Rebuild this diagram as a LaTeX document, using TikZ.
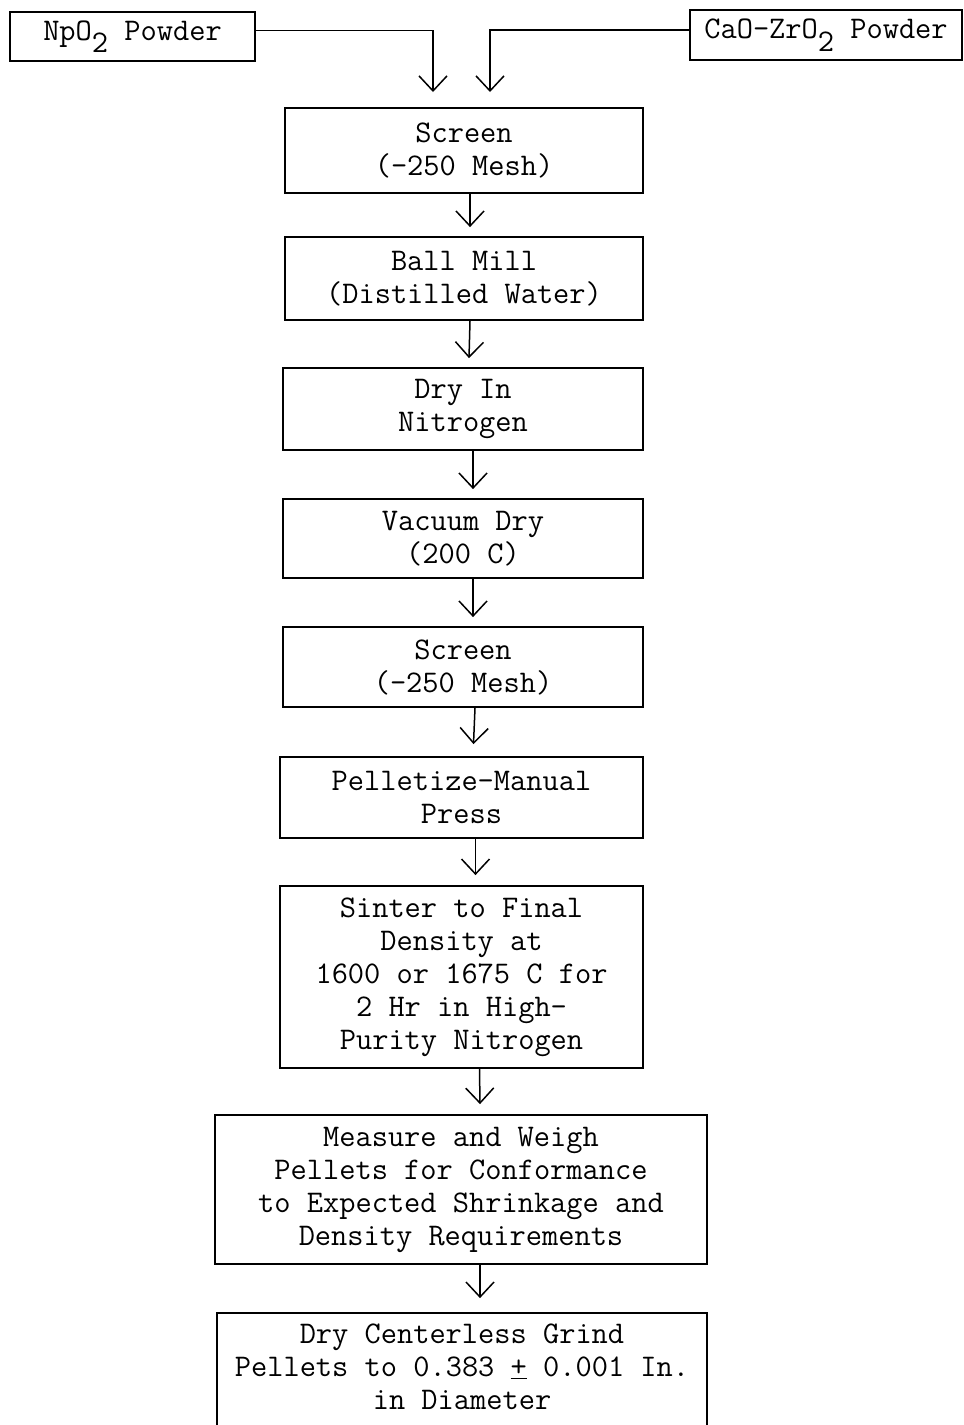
\documentclass[tikz,border=0pt]{standalone}
\usepackage{fontspec}
\usepackage{tikz}
\usetikzlibrary{arrows.meta,positioning}

% lowered subscript, typed the old way
\newcommand{\lowsub}[1]{\raisebox{-0.4em}{#1}}

\begin{document}
\begin{tikzpicture}[
    x=1pt, y=-1pt,
    box/.style={draw, line width=1.8pt, inner sep=0pt, align=center,
                font=\ttfamily\fontsize{31.5}{33}\selectfont},
    arr/.style={-{Straight Barb[length=15pt, width=28pt, line width=1.5pt]},
                line width=1.5pt},
  ]
  \clip (0,0) rectangle (964,1425);
  \fill[white] (0,0) rectangle (964,1425);

  % powders feeding in from both sides
  \node[box, minimum width=245pt, minimum height=49pt] (np) at (132.5,36.5)
    {NpO\lowsub{2} Powder};
  \node[box, minimum width=272pt, minimum height=50pt] (cao) at (826,35)
    {CaO-ZrO\lowsub{2} Powder};

  % main process column
  \node[box, minimum width=358pt, minimum height=85pt] (screen1) at (464,150.5)
    {Screen\\(-250 Mesh)};
  \node[box, minimum width=358pt, minimum height=83pt] (mill) at (464,278.5)
    {Ball Mill\\(Distilled Water)};
  \node[box, minimum width=360pt, minimum height=82pt] (drynit) at (463,409)
    {Dry In\\Nitrogen};
  \node[box, minimum width=360pt, minimum height=79pt] (vacdry) at (463,538.5)
    {Vacuum Dry\\(200 C)};
  \node[box, minimum width=360pt, minimum height=80pt] (screen2) at (463,667)
    {Screen\\(-250 Mesh)};
  \node[box, minimum width=363pt, minimum height=81pt] (press) at (461.5,797.5)
    {Pelletize-Manual\\Press};
  \node[box, minimum width=363pt, minimum height=182pt] (sinter) at (461.5,977)
    {Sinter to Final\\Density at\\1600 or 1675 C for\\2 Hr in High-\\Purity Nitrogen};
  \node[box, minimum width=492pt, minimum height=149pt] (measure) at (461,1189.5)
    {Measure and Weigh\\Pellets for Conformance\\to Expected Shrinkage and\\Density Requirements};
  \node[box, minimum width=490pt, minimum height=140pt] (grind) at (462,1383)
    {Dry Centerless Grind\\Pellets to 0.383 \underline{+} 0.001 In.\\in Diameter\\~};

  \coordinate (inL) at (433,92);
  \coordinate (inR) at (490,92);

  \draw[arr] ([yshift=6pt]np.east) -| (inL);
  \draw[arr] ([yshift=5pt]cao.west) -| (inR);
  \draw[arr] ([xshift=6pt]screen1.south) -- ([xshift=6pt,yshift=9pt]mill.north);
  \draw[arr] ([xshift=6pt]mill.south) -- ([xshift=6pt,yshift=9pt]drynit.north);
  \draw[arr] ([xshift=10pt]drynit.south) -- ([xshift=10pt,yshift=9pt]vacdry.north);
  \draw[arr] ([xshift=10pt]vacdry.south) -- ([xshift=10pt,yshift=9pt]screen2.north);
  \draw[arr] ([xshift=12pt]screen2.south) -- ([xshift=12pt,yshift=12pt]press.north);
  \draw[arr] ([xshift=14pt]press.south) -- ([xshift=14pt,yshift=10pt]sinter.north);
  \draw[arr] ([xshift=18pt]sinter.south) -- ([xshift=19pt,yshift=10pt]measure.north);
  \draw[arr] ([xshift=19pt]measure.south) -- ([xshift=18pt,yshift=14pt]grind.north);
\end{tikzpicture}
\end{document}
